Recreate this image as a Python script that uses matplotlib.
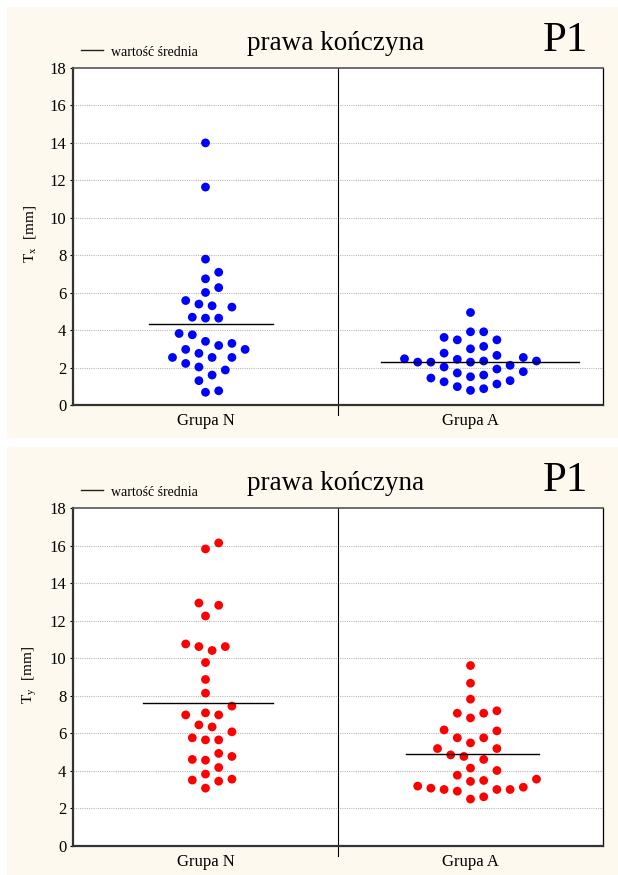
import numpy as np
import matplotlib
matplotlib.use('Agg')
import matplotlib.pyplot as plt
from matplotlib.patches import Rectangle
from matplotlib.lines import Line2D

plt.rcParams['font.family'] = ['Liberation Serif', 'DejaVu Serif']
plt.rcParams['mathtext.fontset'] = 'stix'

# data
groups = ['Grupa N', 'Grupa A']
tx_grupa_n = [14.0, 11.64, 7.79, 7.09, 6.74, 6.27, 6.01, 5.23, 5.30, 5.39, 5.58,
              4.64, 4.64, 4.69, 3.75, 3.82, 3.29, 3.18, 3.40, 2.97, 2.97, 2.54,
              2.54, 2.54, 2.76, 1.87, 2.03, 2.22, 1.60, 1.30, 0.68, 0.76]
tx_grupa_a = [4.94, 3.48, 3.48, 3.61, 3.91, 3.91, 3.00, 3.13, 1.92, 2.03, 2.12,
              2.29, 2.29, 2.29, 2.35, 2.35, 2.44, 2.47, 2.54, 2.65, 2.77, 1.30,
              1.44, 1.51, 1.60, 1.71, 1.78, 0.78, 0.87, 0.98, 1.12, 1.24]
ty_grupa_n = [16.14, 15.82, 12.94, 12.82, 12.25, 10.41, 10.62, 10.62, 10.76, 9.77,
              8.87, 8.14, 7.45, 6.98, 6.98, 7.09, 6.45, 6.34, 6.08, 5.65, 5.65,
              5.76, 4.57, 4.61, 4.77, 4.93, 4.18, 3.45, 3.51, 3.56, 3.83, 3.08]
ty_grupa_a = [9.61, 8.67, 7.82, 6.82, 7.07, 7.07, 7.20, 6.13, 6.18, 5.49, 5.76,
              5.76, 5.19, 5.19, 4.61, 4.77, 4.85, 3.77, 3.56, 4.02, 4.15, 2.92,
              3.01, 3.01, 3.01, 3.08, 3.13, 3.19, 3.44, 3.49, 2.50, 2.62]
y_ticks = list(range(0, 19, 2))
title = 'prawa kończyna'
tag = 'P1'
legend_label = 'wartość średnia'

W, H = 618, 875
CREAM = '#FDF9EE'


def fx(x):
    return x / W


def fy(y):
    return 1 - y / H


def swarm_offsets(values, px_x, px_y, d=13.0, step=6.6):
    # simple beeswarm: each point goes to the nearest free slot to the centre
    values = np.asarray(values)
    offs = np.zeros(len(values))
    placed = []
    for i in np.argsort(values):
        y = values[i] * px_y
        k = 0
        while True:
            cands = [0.0] if k == 0 else [k * step, -k * step]
            ok = None
            for c in cands:
                if all((c - px) ** 2 + (y - py) ** 2 >= d * d for px, py in placed):
                    ok = c
                    break
            if ok is not None:
                break
            k += 1
        placed.append((ok, y))
        offs[i] = ok / px_x
    return offs


def draw_panel(fig, top, bottom, series, color, ylab, mean_spans):
    fig.add_artist(Rectangle((fx(7), fy(bottom)), fx(611), (bottom - top) / H,
                             transform=fig.transFigure, facecolor=CREAM,
                             edgecolor='none', zorder=0))
    ax_top = top + 61
    ax_bot = bottom - 33
    ax = fig.add_axes([fx(73), fy(ax_bot), fx(530), (ax_bot - ax_top) / H])
    ax.set_facecolor('white')
    ax.set_xlim(-0.5, 1.5)
    ax.set_ylim(0, 18)
    px_x = 530 / 2
    px_y = (ax_bot - ax_top) / 18

    for i, vals in enumerate(series):
        offs = swarm_offsets(vals, px_x, px_y)
        ax.scatter(i + offs, vals, s=40, color=color, edgecolors='none', zorder=3)
        m = np.mean(vals)
        ax.plot([i + mean_spans[i][0], i + mean_spans[i][1]], [m, m],
                color='black', lw=1.0, zorder=4)

    ax.set_yticks(y_ticks)
    ax.set_yticklabels([str(t) for t in y_ticks], fontsize=12)
    ax.set_xticks([0, 1])
    ax.set_xticklabels(groups, fontsize=12)
    ax.tick_params(axis='x', length=0, pad=6)
    ax.tick_params(axis='y', length=2.2, width=0.8, pad=2.5)
    for t in y_ticks[1:-1]:
        ax.axhline(t, color='#b8b8b8', lw=0.8, ls=(0, (1, 1)), zorder=1)
    ax.axvline(0.5, ymin=-0.03, ymax=1, color='black', lw=0.8, clip_on=False, zorder=2)
    for side in ['left', 'bottom']:
        ax.spines[side].set_linewidth(1.6)
        ax.spines[side].set_color('#333333')
    ax.spines['top'].set_linewidth(1.2)
    ax.spines['top'].set_color('#555555')
    ax.spines['right'].set_linewidth(0.9)
    ax.spines['right'].set_color('black')

    fig.text(fx(30), fy((ax_top + ax_bot) / 2 - 2), ylab, rotation=90,
             ha='center', va='center', fontsize=11)
    fig.text(fx(336), fy(ax_top - 18), title, ha='center', va='baseline', fontsize=19.5)
    fig.text(fx(588), fy(ax_top - 17), tag, ha='right', va='baseline', fontsize=31)
    fig.add_artist(Line2D([fx(81), fx(103)], [fy(ax_top - 18), fy(ax_top - 18)],
                          transform=fig.transFigure, color='#222222', lw=1.0))
    fig.text(fx(111), fy(ax_top - 12), legend_label, ha='left', va='baseline', fontsize=10)
    return ax


fig = plt.figure(figsize=(W / 100, H / 100), dpi=100, facecolor='white')

draw_panel(fig, 7, 438, [tx_grupa_n, tx_grupa_a], '#0000FF',
           r'T$_\mathregular{x}$  [mm]', [(-0.213, 0.255), (-0.338, 0.409)])
draw_panel(fig, 447, 879, [ty_grupa_n, ty_grupa_a], '#FF0000',
           r'T$_\mathregular{y}$  [mm]', [(-0.236, 0.255), (-0.245, 0.26)])

fig.savefig('out.png', dpi=100, facecolor='white')
